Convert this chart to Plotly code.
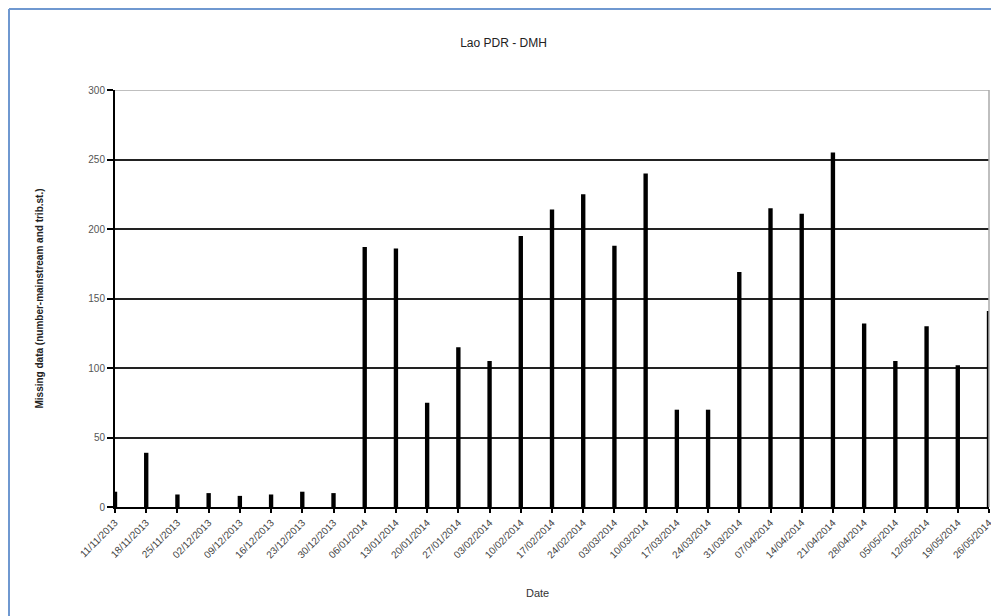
import plotly.graph_objects as go

dates = [
  "11/11/2013", "18/11/2013", "25/11/2013", "02/12/2013", "09/12/2013", "16/12/2013",
  "23/12/2013", "30/12/2013", "06/01/2014", "13/01/2014", "20/01/2014", "27/01/2014",
  "03/02/2014", "10/02/2014", "17/02/2014", "24/02/2014", "03/03/2014", "10/03/2014",
  "17/03/2014", "24/03/2014", "31/03/2014", "07/04/2014", "14/04/2014", "21/04/2014",
  "28/04/2014", "05/05/2014", "12/05/2014", "19/05/2014", "26/05/2014",
]
missing = [
  11, 39, 9, 10, 8, 9, 11, 10, 187, 186, 75, 115,
  105, 195, 214, 225, 188, 240, 70, 70, 169, 215,
  211, 255, 132, 105, 130, 102, 141,
]
y_ticks = [0, 50, 100, 150, 200, 250, 300]

font = "Liberation Sans, Arial, sans-serif"

# page body keeps its 8px margin, so the figure starts at (8, 8) on screen
plot_w, plot_h = 874, 417
edge_x = -106 / plot_w
edge_y = 1 + 81 / plot_h

fig = go.Figure()
fig.add_bar(x=dates, y=missing, width=0.14, marker=dict(color="black", line=dict(width=0)))

fig.update_layout(
  width=991, height=608,
  paper_bgcolor="white", plot_bgcolor="white",
  margin=dict(l=107, r=10, t=82, b=109, autoexpand=False),
  showlegend=False,
  font=dict(family=font, color="#222"),
  title=dict(text="Lao PDR - DMH", x=0.5, xanchor="center", y=1 - 35 / 608, yanchor="middle",
             font=dict(size=12, color="#222")),
  xaxis=dict(
    type="category", range=[0, len(dates) - 1],
    showgrid=False, showline=True, linecolor="black", linewidth=2,
    ticks="outside", ticklen=4, tickcolor="black", tickwidth=1.5,
    tickangle=-45, tickfont=dict(size=10, color="#444"),
  ),
  yaxis=dict(
    range=[0, 300], tickvals=y_ticks, showgrid=True, gridcolor="#222", gridwidth=1.5,
    showline=True, linecolor="black", linewidth=2, zeroline=False,
    ticks="outside", ticklen=6, tickcolor="black", tickwidth=1.5,
    tickfont=dict(size=10, color="#555"),
    title=dict(text="<b>Missing data (number-mainstream and trib.st.)</b>",
               font=dict(size=10, color="#222"), standoff=43),
  ),
  annotations=[
    dict(text="Date", xref="paper", yref="paper", x=0.483, y=-0.206,
         xanchor="center", yanchor="middle", showarrow=False,
         font=dict(size=11, color="#333")),
  ],
  shapes=[
    dict(type="line", xref="paper", yref="y", x0=0, x1=1, y0=300, y1=300,
         line=dict(color="#aaa", width=1.5)),
    dict(type="line", xref="paper", yref="paper", x0=1, x1=1, y0=0, y1=1,
         line=dict(color="#aaa", width=1.5)),
    dict(type="line", xref="paper", yref="paper", x0=edge_x, x1=1.2, y0=edge_y, y1=edge_y,
         line=dict(color="#6f98d0", width=2)),
    dict(type="line", xref="paper", yref="paper", x0=edge_x, x1=edge_x, y0=-0.5, y1=edge_y,
         line=dict(color="#6f98d0", width=2)),
  ],
)

fig.write_html("out.html")
